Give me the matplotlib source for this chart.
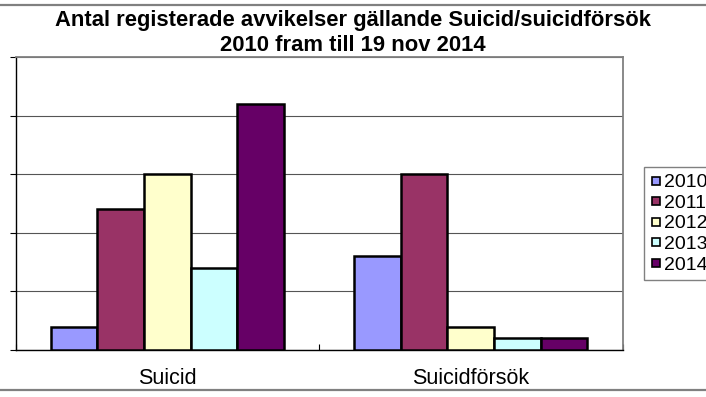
import numpy as np
import matplotlib.pyplot as plt
from matplotlib.lines import Line2D
from matplotlib.patches import Rectangle

plt.rcParams['font.family'] = ['Liberation Sans', 'DejaVu Sans']

categories = ['Suicid', 'Suicidförsök']
years = ['2010', '2011', '2012', '2013', '2014']
counts = {
    '2010': [2, 8],
    '2011': [12, 15],
    '2012': [15, 2],
    '2013': [7, 1],
    '2014': [21, 1],
}
colors = ['#9999FF', '#993366', '#FFFFCC', '#CCFFFF', '#660066']

fig = plt.figure(figsize=(7.06, 3.97), dpi=100)
ax = fig.add_axes([15.5 / 706, 1 - 350 / 397, 607 / 706, 293 / 397])

# chart area border (only top and bottom visible in the crop)
fig.add_artist(Rectangle((-0.01, 1 - 390 / 397), 1.02, (390 - 4.5) / 397,
                         transform=fig.transFigure, fill=False,
                         edgecolor='#808080', linewidth=1.6))

x = np.arange(len(categories))
width = 1 / 6.5
for i, yr in enumerate(years):
    offs = (i - 2) * width
    ax.bar(x + offs, counts[yr], width, color=colors[i], edgecolor='black',
           linewidth=1.8, label=yr, zorder=3)

ax.set_xlim(-0.5, 1.5)
ax.set_ylim(0, 25)
ax.set_yticks(np.arange(0, 26, 5))
ax.set_yticklabels([])
ax.yaxis.grid(True, color='#555555', linewidth=0.8)
ax.set_axisbelow(True)
ax.tick_params(axis='y', direction='out', length=4.5, width=0.8, color='black')

ax.set_xticks(x)
ax.set_xticklabels(categories, fontsize=15.5)
ax.set_xticks([-0.5, 0.5, 1.5], minor=True)
ax.tick_params(axis='x', which='major', length=0, pad=13)
ax.tick_params(axis='x', which='minor', direction='in', length=4.5, width=0.8)

for s in ['left', 'bottom']:
    ax.spines[s].set_color('black')
    ax.spines[s].set_linewidth(1.0)
for s in ['top', 'right']:
    ax.spines[s].set_color('#808080')
    ax.spines[s].set_linewidth(1.3)

fig.suptitle('Antal registerade avvikelser gällande Suicid/suicidförsök\n'
             '2010 fram till 19 nov 2014',
             fontsize=15.8, fontweight='bold', y=1 - 10 / 397, va='top',
             linespacing=1.25)

handles = [Line2D([], [], marker='s', linestyle='none', markersize=6,
                  markerfacecolor=c, markeredgecolor='black',
                  markeredgewidth=1.2) for c in colors]
fig.legend(handles, years, loc='upper left',
           bbox_to_anchor=(644 / 706, 1 - 167 / 397),
           fontsize=14, frameon=True, fancybox=False, edgecolor='#606060',
           handlelength=0.55, handletextpad=0.15, labelspacing=0.15,
           borderpad=0.35, borderaxespad=0)

fig.savefig('out.png', dpi=100)
